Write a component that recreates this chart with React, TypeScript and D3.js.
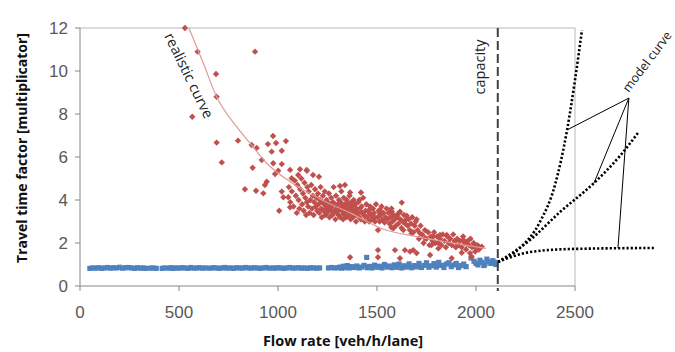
import React from "react";
import * as d3 from "d3";

// axis ticks
const xTicks = [0, 500, 1000, 1500, 2000, 2500];
const yTicks = [0, 2, 4, 6, 8, 10, 12];
const capacity = 2110;

// measured travel time factor (congested) - [flow, factor]
const redPoints: [number, number][] = [
  [530, 12.0], [594, 10.9], [884, 10.9], [687, 9.86], [690, 8.8], [567, 7.87],
  [690, 6.67], [716, 5.75], [798, 6.76], [867, 6.56], [975, 6.98], [1040, 6.74],
  [949, 6.6], [990, 6.65], [892, 6.42], [968, 6.25], [1019, 6.29], [918, 5.86],
  [976, 5.71], [1019, 5.67], [872, 5.5], [1001, 5.36], [985, 5.21], [1061, 5.4],
  [1111, 5.43], [1145, 5.4], [943, 4.85], [934, 4.7], [1069, 5.01], [1102, 5.16],
  [833, 4.5], [889, 4.43], [926, 4.31], [1019, 4.39], [1027, 4.13], [1052, 4.13],
  [1006, 3.5], [1061, 3.66],
  [1146, 5.36], [1177, 5.16], [1207, 5.08], [1313, 4.65], [1338, 4.7], [1364, 4.35],
  [1419, 4.35], [1411, 4.0], [1473, 3.61], [1515, 3.53], [1566, 3.46], [1616, 3.46],
  [1625, 3.88], [1505, 2.6], [1572, 2.73],
  [1575, 3.46], [1515, 3.4], [1600, 3.3], [1650, 3.27], [1700, 3.1], [1582, 2.68],
  [1633, 2.6], [1675, 2.45], [1717, 2.45], [1742, 2.23], [1784, 2.3], [1818, 2.37],
  [1852, 2.37], [1894, 2.07], [1936, 2.14], [1953, 1.95], [1995, 1.8], [2012, 1.86],
  [1591, 1.67], [1641, 1.67], [1683, 1.67], [1776, 1.91], [1810, 1.75], [1877, 1.29],
  [1928, 1.55], [1978, 1.36], [1616, 1.29], [1364, 1.34], [1505, 1.67], [1505, 1.34],
  [1667, 1.6], [1700, 1.53], [1768, 1.44], [1970, 1.53], [2029, 1.83],
  [1055, 4.6], [1062, 3.9], [1070, 4.4], [1078, 3.7], [1085, 4.9], [1090, 4.2], [1095, 3.4], [1098, 4.7],
  [1104, 4.0], [1108, 3.6], [1112, 4.5], [1118, 5.0], [1122, 3.8], [1126, 4.3], [1130, 3.5], [1134, 4.8],
  [1138, 4.1], [1142, 3.3], [1146, 3.9], [1148, 4.6],
  [1152, 3.7], [1155, 4.4], [1160, 3.4], [1163, 4.0], [1168, 4.7], [1172, 3.6], [1176, 4.2], [1180, 3.3],
  [1183, 3.9], [1187, 4.5], [1191, 3.7], [1195, 4.1], [1198, 3.5],
  [1202, 4.3], [1205, 3.8], [1208, 3.4], [1212, 4.0], [1215, 4.6], [1218, 3.6], [1221, 3.2], [1224, 3.9],
  [1227, 4.2], [1230, 3.5], [1233, 3.8], [1236, 4.4], [1239, 3.3], [1242, 3.7], [1245, 4.0], [1248, 3.4],
  [1251, 3.9], [1254, 3.6], [1257, 4.3], [1260, 3.2], [1263, 3.8], [1266, 3.5], [1269, 4.1], [1272, 3.7],
  [1275, 3.3], [1278, 3.9], [1281, 4.6], [1284, 3.5], [1287, 3.8], [1290, 3.1], [1293, 4.2], [1296, 3.6], [1299, 3.4],
  [1302, 3.8], [1305, 3.3], [1308, 4.0], [1311, 3.6], [1314, 3.2], [1317, 3.9], [1320, 4.4], [1323, 3.5],
  [1326, 3.7], [1329, 3.1], [1332, 4.1], [1335, 3.4], [1338, 3.8], [1341, 3.6], [1344, 3.2], [1347, 4.0],
  [1352, 3.5], [1355, 3.8], [1358, 3.3], [1361, 4.2], [1364, 3.6], [1367, 3.1], [1370, 3.9], [1373, 3.4],
  [1376, 3.7], [1379, 3.2], [1382, 4.0], [1385, 3.5], [1388, 3.3], [1391, 3.8], [1394, 3.0], [1397, 3.6],
  [1402, 3.4], [1406, 3.9], [1410, 3.2], [1414, 3.6], [1418, 3.1], [1422, 3.7], [1426, 3.4], [1430, 4.1],
  [1434, 3.3], [1438, 3.0], [1442, 3.5], [1446, 3.8],
  [1452, 3.2], [1456, 3.5], [1460, 3.0], [1465, 3.7], [1470, 3.3], [1475, 3.1], [1480, 3.6], [1485, 3.4], [1490, 3.0], [1495, 3.8],
  [1503, 3.2], [1508, 3.5], [1513, 3.0], [1518, 3.3], [1523, 3.7], [1528, 3.1], [1533, 3.4], [1538, 2.95], [1543, 3.2], [1548, 3.6],
  [1553, 3.1], [1558, 3.4], [1563, 2.9], [1568, 3.2], [1573, 3.6], [1578, 3.0], [1583, 3.3], [1590, 3.1], [1595, 2.8],
  [1603, 3.2], [1608, 2.9], [1613, 3.4], [1618, 3.1], [1624, 2.7], [1630, 3.0], [1636, 3.3], [1642, 2.9], [1648, 3.1],
  [1655, 2.8], [1660, 3.1], [1666, 2.6], [1672, 2.9], [1678, 3.2], [1684, 2.5], [1690, 2.8], [1696, 3.0],
  [1705, 2.6], [1712, 2.2], [1720, 2.8], [1728, 2.4], [1735, 2.0], [1742, 2.6], [1750, 2.2], [1758, 2.5],
  [1765, 1.9], [1772, 2.3], [1780, 2.1], [1788, 2.5], [1795, 2.0],
  [1803, 2.3], [1810, 2.0], [1818, 2.2], [1825, 1.9], [1832, 2.4], [1840, 2.1], [1848, 1.8], [1855, 2.3],
  [1862, 2.0], [1870, 2.2], [1878, 1.9], [1885, 2.4], [1892, 2.1], [1898, 1.8],
  [1905, 2.2], [1912, 1.9], [1920, 2.1], [1928, 1.8], [1935, 2.3], [1942, 2.0], [1950, 1.7], [1958, 2.1],
  [1965, 1.9], [1972, 2.2], [1980, 1.8], [1988, 2.0], [1996, 1.6], [2005, 1.9], [2015, 1.7],
  [1240, 3.55], [1262, 3.65], [1285, 3.45], [1306, 3.55], [1328, 3.75], [1350, 3.25], [1372, 3.55],
  [1395, 3.35], [1416, 3.45], [1440, 3.25], [1462, 3.4], [1488, 3.2], [1330, 3.35], [1360, 3.7],
];

// measured travel time factor (free flow) - [flow, factor]
const bluePoints: [number, number][] = [
  [50, 0.82], [65, 0.84], [80, 0.83], [95, 0.85], [110, 0.82], [125, 0.84], [140, 0.86], [155, 0.83],
  [170, 0.85], [185, 0.84], [200, 0.87], [215, 0.83], [230, 0.85], [245, 0.86], [260, 0.84], [275, 0.82],
  [290, 0.85], [305, 0.83], [320, 0.84], [330, 0.82],
  [355, 0.83], [370, 0.84], [385, 0.82],
  [415, 0.82], [428, 0.84], [448, 0.83], [460, 0.85],
  [470, 0.82], [485, 0.84], [500, 0.83], [515, 0.85], [530, 0.84], [545, 0.82], [560, 0.86], [575, 0.83],
  [590, 0.84], [605, 0.85], [620, 0.83], [635, 0.84],
  [657, 0.83], [672, 0.85], [687, 0.84], [702, 0.82], [717, 0.84], [732, 0.86], [742, 0.83],
  [760, 0.84], [775, 0.82], [790, 0.85], [805, 0.84], [820, 0.83], [835, 0.86], [850, 0.84], [865, 0.83],
  [880, 0.85], [895, 0.84], [910, 0.82], [925, 0.84], [940, 0.86], [955, 0.83], [975, 0.84],
  [985, 0.83], [1000, 0.85], [1015, 0.84], [1030, 0.82], [1045, 0.84], [1060, 0.86], [1075, 0.83],
  [1090, 0.84], [1105, 0.85], [1120, 0.83], [1135, 0.84], [1150, 0.82], [1165, 0.85], [1180, 0.84],
  [1195, 0.83], [1210, 0.84],
  [1255, 0.84], [1270, 0.86], [1285, 0.84], [1300, 0.85], [1313, 0.88],
  [1320, 0.83], [1330, 0.92], [1340, 0.85], [1350, 0.95], [1360, 0.84], [1372, 0.9], [1385, 0.86],
  [1398, 0.93], [1410, 0.84], [1422, 0.88], [1435, 0.96], [1448, 1.33], [1450, 0.85], [1462, 0.91],
  [1475, 0.84], [1488, 0.97], [1500, 0.87], [1512, 0.92], [1525, 0.84], [1538, 1.0], [1550, 0.88],
  [1562, 0.93], [1575, 0.85], [1588, 0.98], [1600, 0.87], [1612, 1.02], [1625, 0.84], [1638, 0.94],
  [1650, 0.88], [1662, 1.03], [1675, 0.85], [1688, 0.95], [1700, 0.89], [1712, 1.05], [1725, 0.86],
  [1738, 0.96], [1750, 1.08], [1762, 0.87], [1775, 0.94], [1788, 1.04], [1800, 0.88], [1812, 1.1],
  [1825, 0.96], [1838, 0.86], [1850, 1.02], [1862, 1.08], [1875, 0.9], [1888, 0.98], [1900, 1.05],
  [1912, 0.86], [1925, 0.95], [1938, 1.02], [1950, 0.9],
  [1975, 1.3], [1990, 1.15], [2000, 1.05], [2010, 0.98], [2020, 1.2], [2030, 1.1], [2040, 0.95],
  [2045, 1.02], [2055, 1.25], [2065, 1.12], [2075, 1.05], [2085, 1.18], [2095, 1.1], [2100, 1.0],
];

// realistic (fitted) curve
const realisticCurve: [number, number][] = [
  [550, 12], [623, 10.36], [690, 8.8], [791, 7.41], [859, 6.64], [943, 5.71], [1061, 4.85],
  [1212, 4.05], [1364, 3.4], [1530, 2.65], [1700, 2.3], [1850, 2.05], [1960, 1.88], [2050, 1.75],
];

// model curves beyond capacity
const modelSteep: [number, number][] = [
  [2111, 1.12], [2222, 1.77], [2323, 2.98], [2399, 4.7], [2460, 7.26], [2500, 9.58], [2535, 11.9],
];
const modelMedium: [number, number][] = [
  [2111, 1.12], [2273, 2.14], [2424, 3.44], [2596, 4.79], [2727, 6.05], [2818, 7.12],
];
const modelFlat: [number, number][] = [
  [2111, 1.12], [2273, 1.58], [2475, 1.72], [2904, 1.77],
];
const leaderHub: [number, number] = [2772, 8.74];
const leaderEnds: [number, number][] = [[2460, 7.26], [2596, 4.79], [2717, 1.77]];

const W = 675;
const H = 352;
const red = "#C0504D";
const blue = "#4F81BD";
const axisColor = "#868686";
const labelColor = "#595959";
const annFont = "'Open Sans', 'Noto Sans', sans-serif";

export default function App() {
  const x = d3.scaleLinear().domain([0, 2500]).range([80, 575]);
  const y = d3.scaleLinear().domain([0, 12]).range([286, 28]);

  const smooth = d3.line<[number, number]>()
    .x(d => x(d[0]))
    .y(d => y(d[1]))
    .curve(d3.curveMonotoneX);

  const diamond = "M0,-3.2L3.2,0L0,3.2L-3.2,0Z";

  return (
    <svg width={W} height={H} style={{ position: "absolute", left: 0, top: 0, background: "#fff" }}>
      <rect x={0} y={0} width={W} height={H} fill="#fff" />
      {/* plot frame */}
      <line x1={x(0)} x2={x(2500)} y1={y(12)} y2={y(12)} stroke="#b8b8b8" />
      <line x1={x(2500)} x2={x(2500)} y1={y(12)} y2={y(0)} stroke="#b8b8b8" />
      {/* axes */}
      <line x1={x(0)} x2={x(2500)} y1={y(0)} y2={y(0)} stroke={axisColor} />
      <line x1={x(0)} x2={x(0)} y1={y(0)} y2={y(12)} stroke={axisColor} />
      {xTicks.map(t => (
        <g key={"xt" + t}>
          <line x1={x(t)} x2={x(t)} y1={y(0)} y2={y(0) + 5} stroke={axisColor} />
          <text x={x(t)} y={318} textAnchor="middle" fontFamily="'Liberation Sans', Arial, sans-serif"
            fontSize={17} fill={labelColor}>{t}</text>
        </g>
      ))}
      {yTicks.map(t => (
        <g key={"yt" + t}>
          <line x1={x(0) - 5} x2={x(0)} y1={y(t)} y2={y(t)} stroke={axisColor} />
          <text x={68} y={y(t) + 6} textAnchor="end" fontFamily="'Liberation Sans', Arial, sans-serif"
            fontSize={17} fill={labelColor}>{t}</text>
        </g>
      ))}

      {/* blue points */}
      {bluePoints.map((d, i) => (
        <rect key={"b" + i} x={x(d[0]) - 2.6} y={y(d[1]) - 2.6} width={5.2} height={5.2} fill={blue} />
      ))}
      {/* red points */}
      {redPoints.map((d, i) => (
        <path key={"r" + i} d={diamond} transform={`translate(${x(d[0])},${y(d[1])})`} fill={red} />
      ))}
      {/* realistic curve */}
      <path d={smooth(realisticCurve) || ""} fill="none" stroke="#E09A98" strokeWidth={1.2} />

      {/* capacity line */}
      <line x1={x(capacity)} x2={x(capacity)} y1={y(12)} y2={y(0) + 5} stroke="#404040"
        strokeWidth={2} strokeDasharray="9 4" />

      {/* model curves */}
      {[modelSteep, modelMedium, modelFlat].map((c, i) => (
        <path key={"m" + i} d={smooth(c) || ""} fill="none" stroke="#000" strokeWidth={2.6}
          strokeDasharray="2.2 2" />
      ))}
      {leaderEnds.map((e, i) => (
        <line key={"l" + i} x1={x(leaderHub[0])} y1={y(leaderHub[1])} x2={x(e[0])} y2={y(e[1])}
          stroke="#000" strokeWidth={1} />
      ))}

      {/* annotations */}
      <text transform={`translate(164,36) rotate(64)`} fontFamily={annFont} fontSize={14.5} fill="#222">
        realistic curve
      </text>
      <text transform={`translate(${x(capacity) - 13},67) rotate(-90)`} textAnchor="middle"
        fontFamily={annFont} fontSize={14.5} fill="#222">capacity</text>
      <text transform={`translate(${x(leaderHub[0])},${y(leaderHub[1]) - 5}) rotate(-53)`}
        fontFamily={annFont} fontSize={12.5} fill="#222">model curve</text>

      {/* axis titles */}
      <text transform="translate(27,148) rotate(-90)" textAnchor="middle" fontFamily={annFont}
        fontWeight="bold" fontSize={14} fill="#111">Travel time factor [multiplicator]</text>
      <text x={343} y={346} textAnchor="middle" fontFamily={annFont} fontWeight="bold" fontSize={14.5}
        fill="#111">Flow rate [veh/h/lane]</text>
    </svg>
  );
}
